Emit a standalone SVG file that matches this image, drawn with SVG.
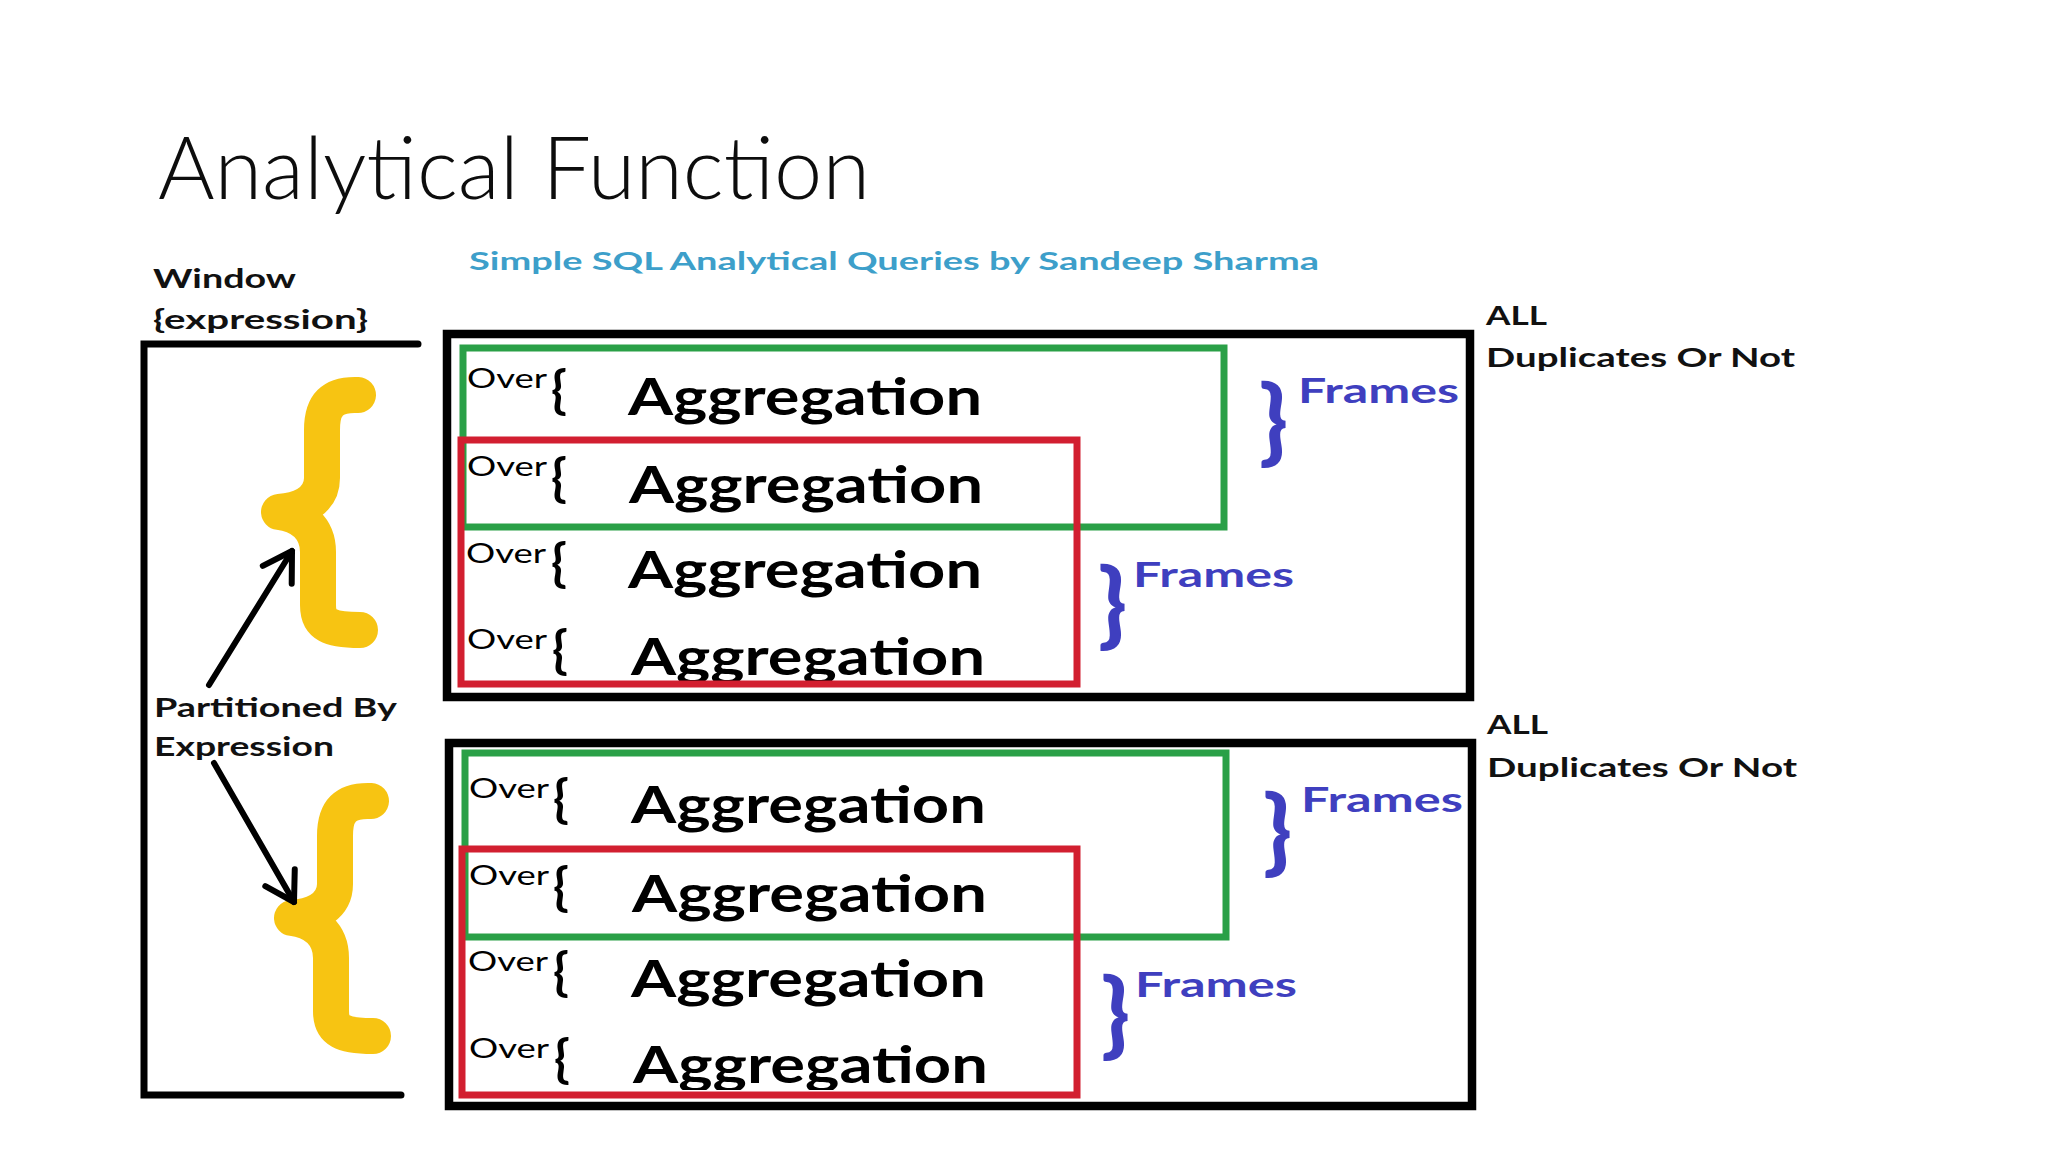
<svg xmlns="http://www.w3.org/2000/svg" width="2048" height="1152" viewBox="0 0 2048 1152">
<defs>
<style>
.title{font-family:Lato,"Open Sans","Liberation Sans",sans-serif;font-weight:300;font-size:86px;fill:#0d0d0d}
.sub{font-family:Lato,"Liberation Sans",sans-serif;font-weight:700;font-size:25px;fill:#3d9fca}
.lbl{font-family:Lato,"Open Sans","Liberation Sans",sans-serif;font-weight:700;font-size:27px;fill:#111}
.over{font-family:Lato,"Liberation Sans",sans-serif;font-weight:400;font-size:27px;fill:#000}
.br{font-family:Lato,"Liberation Sans",sans-serif;font-weight:700;font-size:52px;fill:#000}
.agg{font-family:Lato,"Liberation Sans",sans-serif;font-weight:700;font-size:52px;fill:#000}
.fr{font-family:Lato,"Liberation Sans",sans-serif;font-weight:700;font-size:34px;fill:#3f3fbf}
.fbr{font-family:Lato,"Liberation Sans",sans-serif;font-weight:900;font-size:94px;fill:#3f3fbf}
.box{fill:none;stroke:#000;stroke-width:8.5}
.green{fill:none;stroke:#2aa047;stroke-width:7}
.red{fill:none;stroke:#d21f30;stroke-width:7}
.ybr{fill:none;stroke:#f7c412;stroke-width:36;stroke-linecap:round;stroke-linejoin:round}
.conn{fill:none;stroke:#000;stroke-width:6;stroke-linecap:round}
</style>
<marker id="ah" markerUnits="userSpaceOnUse" viewBox="-40 -25 45 50" markerWidth="45" markerHeight="50" refX="0" refY="0" orient="auto">
<path d="M -28 -17 L 0 0 L -28 17" fill="none" stroke="#000" stroke-width="6" stroke-linecap="round" stroke-linejoin="round"/>
</marker>
<clipPath id="clipTop"><rect x="440" y="330" width="1040" height="351"/></clipPath>
<clipPath id="clipBot"><rect x="440" y="740" width="1040" height="350"/></clipPath>
<path id="ybrace" class="ybr" d="M 358 395 C 332 394, 322 405, 322 430 L 322 478 C 322 500, 302 510, 279 512 C 302 515, 318 528, 318 552 L 318 605 C 318 625, 330 630, 360 630"/>
</defs>
<rect x="0" y="0" width="2048" height="1152" fill="#fff"/>

<g id="title">
<text class="title" x="158" y="199" textLength="712" lengthAdjust="spacingAndGlyphs">Analytical Function</text>
</g>
<g id="subtitle">
<text class="sub" x="469" y="270" textLength="850" lengthAdjust="spacingAndGlyphs">Simple SQL Analytical Queries by Sandeep Sharma</text>
</g>

<g id="window">
<text class="lbl" x="153" y="288" textLength="143" lengthAdjust="spacingAndGlyphs">Window</text>
<text class="lbl" x="153" y="329" textLength="215" lengthAdjust="spacingAndGlyphs">{expression}</text>
<polyline points="418,344 144,344 144,1095 401,1095" fill="none" stroke="#000" stroke-width="7" stroke-linecap="round" stroke-linejoin="miter"/>
</g>

<g id="brace-top">
<use href="#ybrace"/>
</g>
<g id="brace-bottom">
<use href="#ybrace" transform="translate(13,406)"/>
</g>

<g id="partitioned">
<text class="lbl" x="154" y="717" textLength="243" lengthAdjust="spacingAndGlyphs">Partitioned By</text>
<text class="lbl" x="154" y="756" textLength="180" lengthAdjust="spacingAndGlyphs">Expression</text>
</g>

<g id="connectors">
<line class="conn" x1="209" y1="685" x2="292" y2="551" marker-end="url(#ah)"/>
<line class="conn" x1="214" y1="763" x2="294" y2="902" marker-end="url(#ah)"/>
</g>

<g id="window-top">
<rect class="box" x="447" y="334" width="1023" height="363"/>
<text class="over" x="467" y="388" textLength="80" lengthAdjust="spacingAndGlyphs">Over</text>
<text class="br" x="551" y="408">{</text>
<text class="agg" x="628" y="415" textLength="354" lengthAdjust="spacingAndGlyphs">Aggregation</text>
<text class="over" x="467" y="476" textLength="80" lengthAdjust="spacingAndGlyphs">Over</text>
<text class="br" x="551" y="496">{</text>
<text class="agg" x="629" y="503" textLength="354" lengthAdjust="spacingAndGlyphs">Aggregation</text>
<text class="over" x="466" y="563" textLength="80" lengthAdjust="spacingAndGlyphs">Over</text>
<text class="br" x="551" y="581">{</text>
<text class="agg" x="628" y="588" textLength="354" lengthAdjust="spacingAndGlyphs">Aggregation</text>
<text class="over" x="467" y="649" textLength="80" lengthAdjust="spacingAndGlyphs">Over</text>
<text class="br" x="552" y="668">{</text>
<text class="agg" x="631" y="675" textLength="354" lengthAdjust="spacingAndGlyphs" clip-path="url(#clipTop)">Aggregation</text>
<rect class="green" x="463" y="348" width="761" height="179"/>
<rect class="red" x="461" y="440" width="616" height="244"/>
<text class="fbr" x="1259" y="453">}</text>
<text class="fr" x="1298" y="403" textLength="161" lengthAdjust="spacingAndGlyphs">Frames</text>
<text class="fbr" x="1098" y="636">}</text>
<text class="fr" x="1133" y="587" textLength="161" lengthAdjust="spacingAndGlyphs">Frames</text>
</g>

<g id="all-top">
<text class="lbl" x="1486" y="325" textLength="61" lengthAdjust="spacingAndGlyphs">ALL</text>
<text class="lbl" x="1486" y="367" textLength="309" lengthAdjust="spacingAndGlyphs">Duplicates Or Not</text>
</g>

<g id="window-bottom">
<rect class="box" x="449" y="743" width="1023" height="363"/>
<text class="over" x="469" y="798" textLength="80" lengthAdjust="spacingAndGlyphs">Over</text>
<text class="br" x="553" y="817">{</text>
<text class="agg" x="631" y="823" textLength="355" lengthAdjust="spacingAndGlyphs">Aggregation</text>
<text class="over" x="469" y="885" textLength="80" lengthAdjust="spacingAndGlyphs">Over</text>
<text class="br" x="553" y="905">{</text>
<text class="agg" x="632" y="912" textLength="355" lengthAdjust="spacingAndGlyphs">Aggregation</text>
<text class="over" x="468" y="971" textLength="80" lengthAdjust="spacingAndGlyphs">Over</text>
<text class="br" x="553" y="990">{</text>
<text class="agg" x="631" y="997" textLength="355" lengthAdjust="spacingAndGlyphs">Aggregation</text>
<text class="over" x="469" y="1058" textLength="80" lengthAdjust="spacingAndGlyphs">Over</text>
<text class="br" x="554" y="1077">{</text>
<text class="agg" x="633" y="1083" textLength="355" lengthAdjust="spacingAndGlyphs" clip-path="url(#clipBot)">Aggregation</text>
<rect class="green" x="465" y="753" width="761" height="184"/>
<rect class="red" x="462" y="849" width="615" height="246"/>
<text class="fbr" x="1263" y="863">}</text>
<text class="fr" x="1301" y="812" textLength="162" lengthAdjust="spacingAndGlyphs">Frames</text>
<text class="fbr" x="1101" y="1046">}</text>
<text class="fr" x="1135" y="997" textLength="162" lengthAdjust="spacingAndGlyphs">Frames</text>
</g>

<g id="all-bottom">
<text class="lbl" x="1487" y="734" textLength="61" lengthAdjust="spacingAndGlyphs">ALL</text>
<text class="lbl" x="1487" y="777" textLength="310" lengthAdjust="spacingAndGlyphs">Duplicates Or Not</text>
</g>
</svg>
